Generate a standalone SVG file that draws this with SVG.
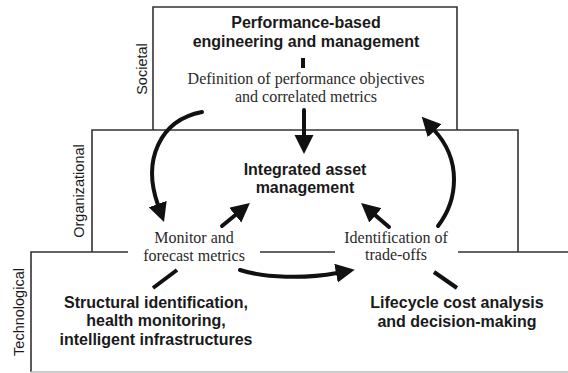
<svg xmlns="http://www.w3.org/2000/svg" width="568" height="373" viewBox="0 0 568 373">
  <defs>
    <marker id="head" markerUnits="userSpaceOnUse" markerWidth="20" markerHeight="20" refX="1" refY="9.5" orient="auto">
      <path d="M0,0 L19,9.5 L0,19 Z" fill="#111"/>
    </marker>
    <style>
      .frame { fill: none; stroke: #333; stroke-width: 1.6; }
      .edge { fill: none; stroke: #111; stroke-width: 4; stroke-linecap: round; }
      .tick { fill: none; stroke: #111; stroke-width: 4; }
      .bold { font-family: "Liberation Sans", Arial, sans-serif; font-weight: bold; font-size: 16px; fill: #1a1a1a; text-anchor: middle; }
      .serif { font-family: "Liberation Serif", "Times New Roman", serif; font-size: 16px; fill: #2a2a2a; text-anchor: middle; }
      .level { font-family: "Liberation Sans", Arial, sans-serif; font-size: 14.5px; fill: #1a1a1a; text-anchor: middle; }
    </style>
  </defs>

  <!-- Level frames -->
  <g id="frames">
    <path class="frame" d="M153,130 V7 H457 V130"/>
    <path class="frame" d="M92,252 V130 H518 V252"/>
    <path class="frame" d="M31,372 V252 H128 M260,252 H335 M458,252 H568"/>
    <line x1="31" y1="372" x2="568" y2="372" stroke="#bbb" stroke-width="1.6"/>
  </g>

  <!-- Level labels -->
  <g id="levels">
    <text class="level" transform="translate(147,69) rotate(-90)">Societal</text>
    <text class="level" transform="translate(84,191) rotate(-90)">Organizational</text>
    <text class="level" transform="translate(23.5,312) rotate(-90)">Technological</text>
  </g>

  <g id="pbem">
    <text class="bold" x="306" y="28">Performance-based</text>
    <text class="bold" x="306" y="47">engineering and management</text>
  </g>

  <g id="objectives">
    <text class="serif" x="306" y="84">Definition of performance objectives</text>
    <text class="serif" x="306" y="102">and correlated metrics</text>
  </g>

  <g id="iam">
    <text class="bold" x="305" y="175">Integrated asset</text>
    <text class="bold" x="305" y="193">management</text>
  </g>

  <g id="monitor">
    <text class="serif" x="194" y="243">Monitor and</text>
    <text class="serif" x="194" y="261">forecast metrics</text>
  </g>

  <g id="tradeoffs">
    <text class="serif" x="396" y="243">Identification of</text>
    <text class="serif" x="396" y="260">trade-offs</text>
  </g>

  <g id="structural">
    <text class="bold" x="156" y="308">Structural identification,</text>
    <text class="bold" x="156" y="326">health monitoring,</text>
    <text class="bold" x="156" y="345">intelligent infrastructures</text>
  </g>

  <g id="lifecycle">
    <text class="bold" x="457" y="308">Lifecycle cost analysis</text>
    <text class="bold" x="457" y="327">and decision-making</text>
  </g>

  <!-- Connectors -->
  <g id="connectors">
    <line class="tick" x1="303" y1="58" x2="303" y2="68"/>
    <path class="edge" d="M304,110 L304,136" marker-end="url(#head)"/>
    <path class="edge" d="M202,112 C160,120 142,160 158,205" marker-end="url(#head)"/>
    <path class="edge" d="M438,226 C458,200 462,160 434,130" marker-end="url(#head)"/>
    <path class="edge" d="M240,270 C265,278 305,279 337,273" marker-end="url(#head)"/>
    <path class="edge" d="M222,226 L236,214.5" marker-end="url(#head)"/>
    <path class="edge" d="M389,227 L374.7,214.7" marker-end="url(#head)"/>
    <line class="tick" x1="153" y1="288" x2="177" y2="270"/>
    <line class="tick" x1="434" y1="272" x2="457" y2="288"/>
  </g>
</svg>
